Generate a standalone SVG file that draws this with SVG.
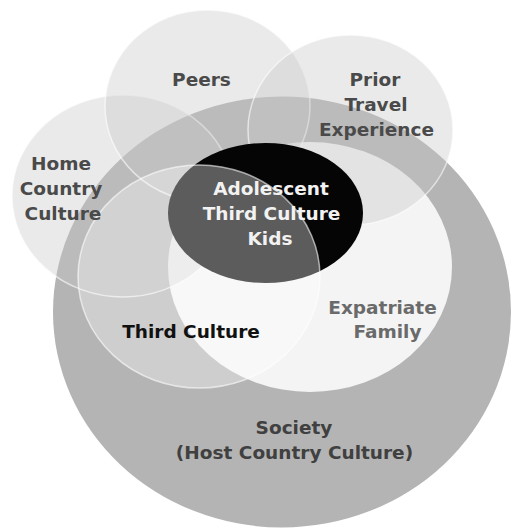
<svg xmlns="http://www.w3.org/2000/svg" width="512" height="529" viewBox="0 0 512 529">
<style>
.t{font-family:"DejaVu Sans","Liberation Sans",sans-serif;font-weight:bold;font-size:18.5px;text-anchor:middle}
.outer{fill:#c9c9c9;fill-opacity:0.38;stroke:#ffffff;stroke-opacity:0.6;stroke-width:1.5}
.tc{fill:#ffffff;fill-opacity:0.35;stroke:#ffffff;stroke-opacity:0.6;stroke-width:1.5}
</style>
<rect width="512" height="529" fill="#ffffff"/>
<g id="society">
<ellipse cx="282" cy="312" rx="229" ry="215.5" fill="#b4b4b4"/>
</g>
<g id="expatriate-family">
<ellipse cx="310" cy="267" rx="142" ry="125" fill="#f4f4f4"/>
</g>
<g id="home-country-culture">
<ellipse class="outer" cx="123" cy="196" rx="111" ry="101"/>
</g>
<g id="peers">
<ellipse class="outer" cx="207.5" cy="106" rx="102.5" ry="96"/>
</g>
<g id="prior-travel-experience">
<ellipse class="outer" cx="350.5" cy="130" rx="102.5" ry="95"/>
</g>
<g id="atck">
<ellipse cx="265.5" cy="213" rx="97.5" ry="70" fill="#050505"/>
</g>
<g id="third-culture">
<ellipse class="tc" cx="199" cy="276.5" rx="121" ry="111.5"/>
</g>
<g id="labels">
<text class="t" x="201.5" y="86" fill="#4a4a4a">Peers</text>
<text class="t" fill="#4a4a4a"><tspan x="375" y="86">Prior</tspan><tspan x="376" y="111">Travel</tspan><tspan x="376.5" y="136">Experience</tspan></text>
<text class="t" fill="#4a4a4a"><tspan x="61" y="170">Home</tspan><tspan x="61" y="195">Country</tspan><tspan x="63" y="220">Culture</tspan></text>
<text class="t" fill="#f2f2f2"><tspan x="271" y="195">Adolescent</tspan><tspan x="271.5" y="220">Third Culture</tspan><tspan x="270" y="245">Kids</tspan></text>
<text class="t" x="191" y="338" fill="#111111">Third Culture</text>
<text class="t" fill="#6a6a6a"><tspan x="382.5" y="314">Expatriate</tspan><tspan x="387.5" y="338">Family</tspan></text>
<text class="t" fill="#404040"><tspan x="294" y="434">Society</tspan><tspan x="294.5" y="459">(Host Country Culture)</tspan></text>
</g>
</svg>
